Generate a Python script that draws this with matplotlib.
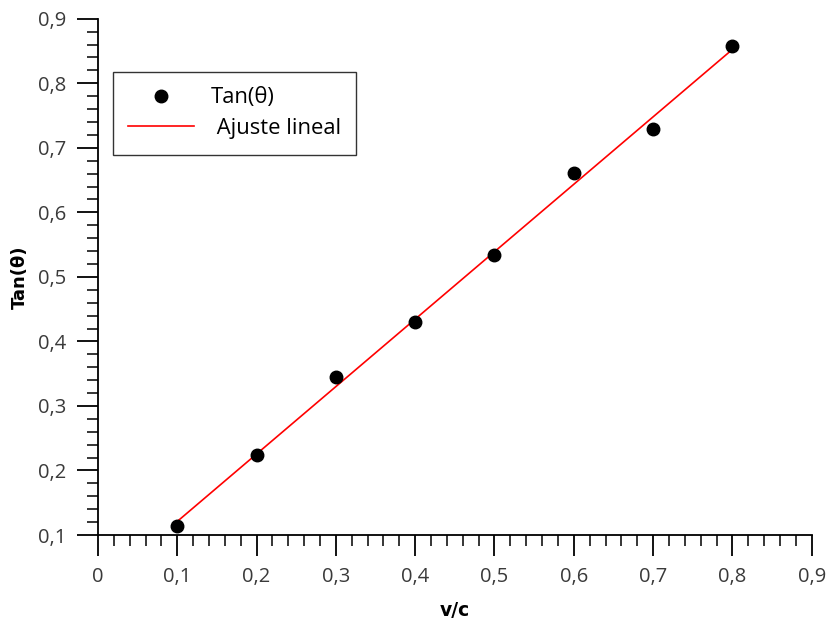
import numpy as np
import matplotlib
matplotlib.use("Agg")
import matplotlib.pyplot as plt
from matplotlib.ticker import MultipleLocator, FuncFormatter

# datos medidos
v_c = [0.1, 0.2, 0.3, 0.4, 0.5, 0.6, 0.7, 0.8]
tan_theta = [0.114, 0.224, 0.345, 0.430, 0.534, 0.661, 0.729, 0.857]

plt.rcParams["font.family"] = ["Open Sans", "DejaVu Sans"]

fig = plt.figure(figsize=(8.3, 6.25), dpi=100)
ax = fig.add_axes([0.118, 0.144, 0.860, 0.826])

# ajuste lineal por minimos cuadrados
m, b = np.polyfit(v_c, tan_theta, 1)
x_fit = np.array([min(v_c), max(v_c)])

ax.plot(v_c, tan_theta, "o", color="black", markersize=9, label="Tan(θ)", zorder=3)
ax.plot(x_fit, m * x_fit + b, color="red", linewidth=1.2, label=" Ajuste lineal", zorder=2)

ax.set_xlim(0, 0.9)
ax.set_ylim(0.1, 0.9)

for side in ("top", "right"):
    ax.spines[side].set_visible(False)
for side in ("left", "bottom"):
    ax.spines[side].set_linewidth(1.3)

ax.xaxis.set_major_locator(MultipleLocator(0.1))
ax.xaxis.set_minor_locator(MultipleLocator(0.02))
ax.yaxis.set_major_locator(MultipleLocator(0.1))
ax.yaxis.set_minor_locator(MultipleLocator(0.02))

comma = FuncFormatter(lambda v, _: ("%g" % round(v, 2)).replace(".", ","))
ax.xaxis.set_major_formatter(comma)
ax.yaxis.set_major_formatter(comma)

ax.tick_params(which="major", direction="out", length=15, width=1.3,
               labelsize=14.5, labelcolor="#3a3a3a", pad=8)
ax.tick_params(which="minor", direction="out", length=8, width=1.1)

ax.set_xlabel("v/c", fontsize=13.5, fontweight="bold", family="DejaVu Sans", labelpad=10)
ax.set_ylabel("Tan(θ)", fontsize=13, fontweight="bold", family="DejaVu Sans", labelpad=6)

leg = ax.legend(loc="upper left", bbox_to_anchor=(0.021, 0.897), fontsize=15.8,
                frameon=True, fancybox=False, borderpad=0.7, handlelength=3.0,
                handletextpad=0.75, labelspacing=0.45, borderaxespad=0)
leg.get_frame().set_edgecolor("black")
leg.get_frame().set_linewidth(1.0)

fig.savefig("out.png", dpi=100)
